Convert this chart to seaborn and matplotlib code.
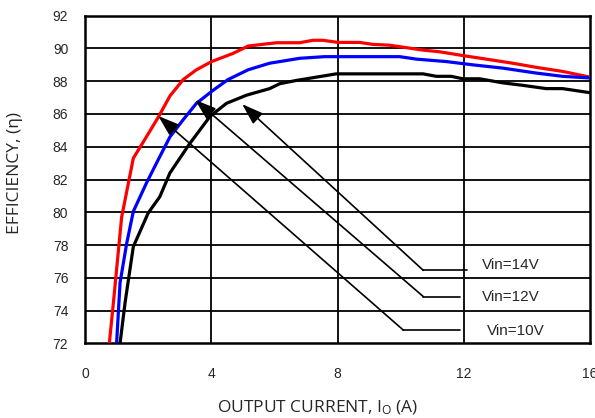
import pandas as pd
import matplotlib.pyplot as plt
import seaborn as sns

# -------------------------
# data
# -------------------------
red_x = [0.77, 0.90, 1.16, 1.53, 1.88, 2.32, 2.69, 3.11, 3.53, 4.01, 4.69, 5.17, 6.07, 6.80,
         7.22, 7.54, 8.01, 8.70, 9.12, 9.65, 10.71, 11.23, 12.03, 12.71, 13.55, 14.29, 15.13, 16.0]
red_y = [72.0, 74.5, 79.7, 83.3, 84.4, 85.8, 87.1, 88.1, 88.7, 89.2, 89.7, 90.15, 90.35, 90.35,
         90.5, 90.5, 90.37, 90.37, 90.25, 90.2, 89.9, 89.8, 89.55, 89.35, 89.1, 88.85, 88.6, 88.25]

blue_x = [1.0, 1.11, 1.32, 1.53, 1.95, 2.37, 2.69, 3.11, 3.53, 4.06, 4.53, 5.17, 5.85, 6.17,
          6.80, 7.59, 9.97, 10.5, 11.45, 12.29, 13.24, 14.29, 15.13, 16.0]
blue_y = [72.0, 75.7, 78.1, 80.05, 81.8, 83.4, 84.6, 85.65, 86.65, 87.45, 88.1, 88.7, 89.1, 89.2,
          89.4, 89.5, 89.5, 89.35, 89.2, 89.0, 88.8, 88.5, 88.3, 88.2]

black_x = [1.11, 1.27, 1.53, 2.0, 2.37, 2.69, 3.32, 3.96, 4.48, 5.12, 5.85, 6.17, 6.70, 7.96,
           10.71, 11.13, 11.6, 11.97, 12.5, 13.24, 13.87, 14.61, 15.13, 16.0]
black_y = [72.0, 74.5, 77.9, 79.95, 80.95, 82.4, 84.2, 85.85, 86.65, 87.15, 87.55, 87.85, 88.05, 88.45,
           88.45, 88.3, 88.3, 88.15, 88.15, 87.9, 87.75, 87.55, 87.55, 87.3]

series = ["Vin=10V", "Vin=12V", "Vin=14V"]
colors = {"Vin=10V": "#ff0000", "Vin=12V": "#0000ff", "Vin=14V": "#000000"}

# callouts: arrow tip, arrow tail, end of the horizontal leader, text position
label_names = ["Vin=14V", "Vin=12V", "Vin=10V"]
arrow_tip = [(4.98, 86.6), (3.49, 86.86), (2.32, 85.88)]
arrow_tail = [(10.72, 76.45), (10.72, 74.85), (10.09, 72.8)]
leader_end = [12.09, 11.88, 11.88]
text_pos = [(12.57, 76.8), (12.57, 74.8), (12.73, 72.75)]

x_ticks = [0, 4, 8, 12, 16]
y_ticks = list(range(72, 93, 2))

df = pd.concat([
    pd.DataFrame({"current": red_x, "eff": red_y, "vin": "Vin=10V"}),
    pd.DataFrame({"current": blue_x, "eff": blue_y, "vin": "Vin=12V"}),
    pd.DataFrame({"current": black_x, "eff": black_y, "vin": "Vin=14V"}),
])

# -------------------------
# figure
# -------------------------
sns.set_style("white")
plt.rcParams['font.family'] = ['Liberation Sans', 'DejaVu Sans']

fig = plt.figure(figsize=(5.95, 4.18), dpi=100)
ax = fig.add_axes([0.1429, 0.1787, 0.8487, 0.7837])

# grid lines
for xv in x_ticks[1:-1]:
    ax.axvline(xv, color="black", lw=1.3, zorder=1)
for yv in y_ticks[1:-1]:
    ax.axhline(yv, color="black", lw=1.3, zorder=1)

sns.lineplot(data=df, x="current", y="eff", hue="vin", palette=colors,
             hue_order=series, sort=False, lw=2.3, legend=False, ax=ax, zorder=3)

for name, tip, tail, xend, tp in zip(label_names, arrow_tip, arrow_tail, leader_end, text_pos):
    ax.annotate("", xy=tip, xytext=tail,
                arrowprops=dict(arrowstyle="-|>,head_length=0.65,head_width=0.22",
                                mutation_scale=20, color="black", lw=1.2,
                                shrinkA=0, shrinkB=0), zorder=4)
    ax.plot([tail[0], xend], [tail[1], tail[1]], color="black", lw=1.2, zorder=4)
    ax.text(tp[0], tp[1], name, fontsize=11, va="center", ha="left", zorder=5)

ax.set_xlim(0, 16)
ax.set_ylim(72, 92)
ax.set_xticks(x_ticks)
ax.set_yticks(y_ticks)
ax.tick_params(axis="x", length=0, pad=17, labelsize=10)
ax.tick_params(axis="y", length=0, pad=12, labelsize=10)

for sp in ax.spines.values():
    sp.set_color("black")
    sp.set_linewidth(1.8)

ax.set_xlabel(r"OUTPUT CURRENT, I$\mathregular{_O}$ (A)", fontsize=12.5,
              family=["Open Sans", "DejaVu Sans"], labelpad=14)
ax.xaxis.set_label_coords(0.46, -0.17)
ax.set_ylabel("EFFICIENCY, (η)", fontsize=12.5, family=["Open Sans", "DejaVu Sans"])
ax.yaxis.set_label_coords(-0.122, 0.52)

plt.savefig("out.png", dpi=100)
